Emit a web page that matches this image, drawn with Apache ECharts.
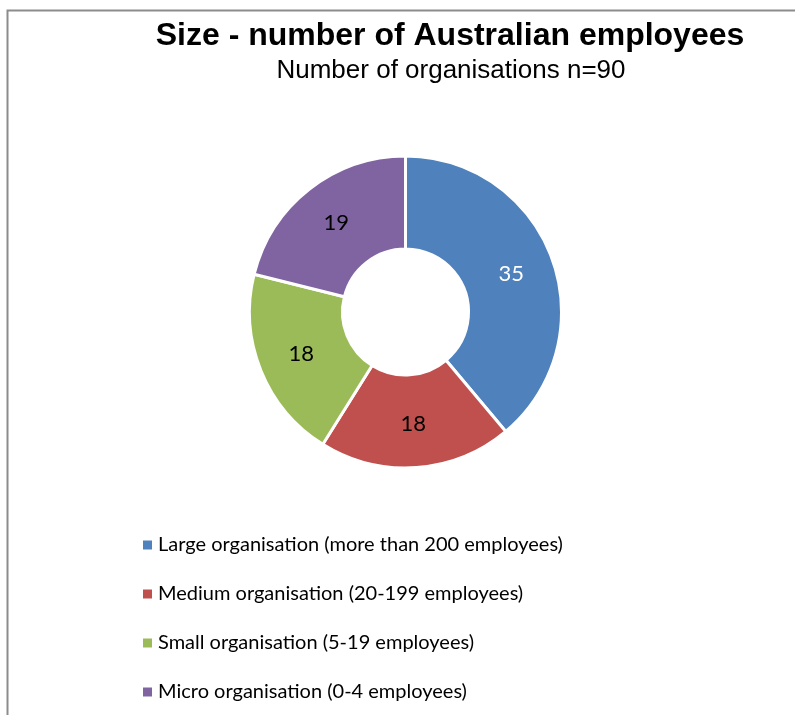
<!DOCTYPE html>
<html>
<head>
<meta charset="utf-8">
<script src="https://cdn.jsdelivr.net/npm/echarts@6/dist/echarts.min.js"></script>
<style>
  html, body { margin: 0; padding: 0; background: #fff; }
  #chart { width: 795px; height: 715px; }
</style>
</head>
<body>
<div id="chart"></div>
<script>
// data
const categories = [
  'Large organisation (more than 200 employees)',
  'Medium organisation (20-199 employees)',
  'Small organisation (5-19 employees)',
  'Micro organisation (0-4 employees)'
]
const counts = [35, 18, 18, 19]
const colors = ['#4F81BD', '#C0504D', '#9BBB59', '#8064A2']
const labelColors = ['#ffffff', '#000000', '#000000', '#000000']

const chart = echarts.init(document.getElementById('chart'))

const pieData = categories.map((name, i) => ({
  name: name,
  value: counts[i],
  itemStyle: { color: colors[i] },
  label: { color: labelColors[i] }
}))

const option = {
  animation: false,
  backgroundColor: '#ffffff',
  title: [
    {
      text: 'Size - number of Australian employees',
      left: 445,
      top: 15,
      textAlign: 'center',
      textStyle: {
        fontFamily: 'Liberation Sans, Arial',
        fontWeight: 'bold',
        fontSize: 32,
        color: '#000'
      }
    },
    {
      text: 'Number of organisations n=90',
      left: 446,
      top: 53,
      textAlign: 'center',
      textStyle: {
        fontFamily: 'Liberation Sans, Arial',
        fontWeight: 'normal',
        fontSize: 26,
        color: '#000'
      }
    }
  ],
  // chart area frame (top and left edges visible)
  graphic: [
    {
      type: 'polyline',
      shape: { points: [[7.5, 715], [7.5, 10.5], [795, 10.5]] },
      style: { stroke: '#8c8c8c', lineWidth: 2, fill: null },
      silent: true
    }
  ],
  legend: {
    orient: 'vertical',
    left: 141,
    top: 533,
    padding: 0,
    icon: 'rect',
    itemWidth: 11,
    itemHeight: 11,
    itemGap: 25,
    textStyle: {
      fontFamily: 'Lato, Open Sans, sans-serif',
      fontSize: 20,
      lineHeight: 24,
      color: '#000'
    },
    data: categories
  },
  series: [
    {
      type: 'pie',
      center: [405.5, 312],
      radius: [63, 156],
      startAngle: 90,
      clockwise: true,
      avoidLabelOverlap: false,
      itemStyle: {
        borderColor: '#ffffff',
        borderWidth: 3
      },
      label: {
        show: true,
        position: 'inside',
        formatter: '{c}',
        fontFamily: 'Lato, Open Sans, sans-serif',
        fontSize: 22
      },
      labelLine: { show: false },
      emphasis: { disabled: true },
      data: pieData
    }
  ]
}

chart.setOption(option)
</script>
</body>
</html>
